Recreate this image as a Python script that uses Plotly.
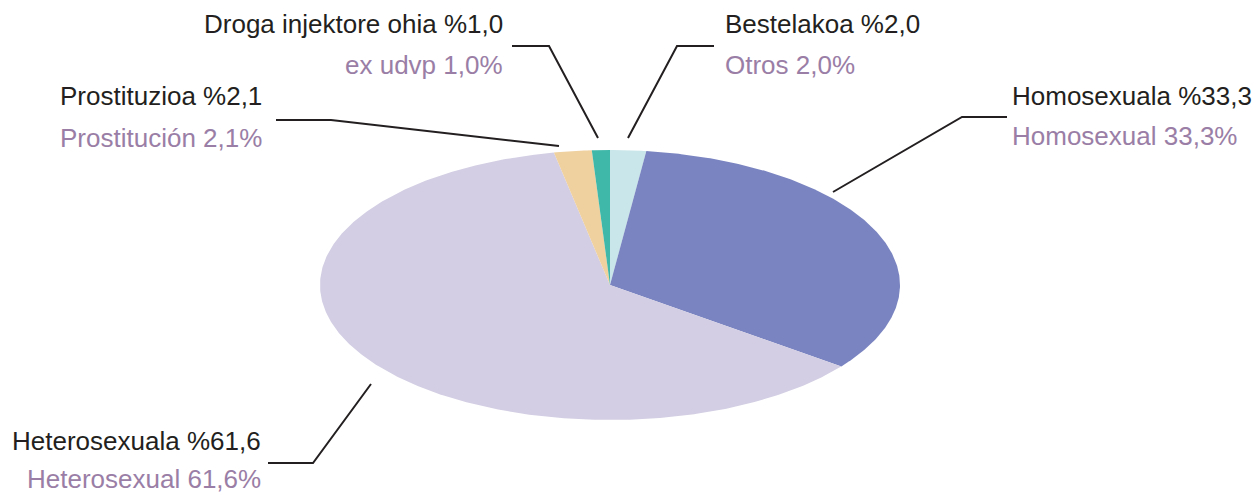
import math
import plotly.graph_objects as go

# ---- data (clockwise from 12 o'clock) ----
labels_es = ["Otros", "Homosexual", "Heterosexual", "Prostitución", "ex udvp"]
labels_eu = ["Bestelakoa", "Homosexuala", "Heterosexuala", "Prostituzioa", "Droga injektore ohia"]
values = [2.0, 33.3, 61.6, 2.1, 1.0]
colors = ["#c9e6ea", "#7a84c0", "#d3cee3", "#efd09f", "#40b8a9"]

# ---- geometry / style ----
W, H = 1256, 495
CX, CY = 610, 285
RX, RY = 290, 135
BLACK = "#231f20"
PURPLE = "#9a7ea6"
FONT = "Liberation Sans, Arial, sans-serif"
FS = 26

def fmt(v):
    return f"{v:.1f}".replace(".", ",")

fig = go.Figure()

total = sum(values)
start = 0.0
for lab, v, c in zip(labels_es, values, colors):
    a0 = start / total * 2 * math.pi
    a1 = (start + v) / total * 2 * math.pi
    n = max(8, int((a1 - a0) / (2 * math.pi) * 720))
    xs, ys = [CX], [CY]
    for i in range(n + 1):
        t = a0 + (a1 - a0) * i / n
        xs.append(CX + RX * math.sin(t))
        ys.append(CY - RY * math.cos(t))
    xs.append(CX)
    ys.append(CY)
    fig.add_trace(go.Scatter(x=xs, y=ys, fill="toself", fillcolor=c, mode="lines",
                             line=dict(width=0, color=c), name=lab,
                             hoverinfo="text", text=f"{lab} {fmt(v)}%", showlegend=False))
    start += v

# leader lines (layout decorations) : anchor -> elbow -> end
leaders = {
    "Otros": [(628, 138), (677, 46), (714, 46)],
    "ex udvp": [(598, 138), (549, 46), (512, 46)],
    "Prostitución": [(559, 146), (331, 120), (276, 120)],
    "Homosexual": [(833, 192), (962, 117), (1007, 117)],
    "Heterosexual": [(371, 384), (313, 463), (268, 463)],
}
for k, pts in leaders.items():
    path = "M " + " L ".join(f"{x},{y}" for x, y in pts)
    fig.add_shape(type="path", path=path, line=dict(color=BLACK, width=2),
                  xref="x", yref="y", layer="above")

# label placement: (x, anchor, y_black, y_purple)
place = {
    "Otros": (723, "left", 24, 65),
    "ex udvp": (505, "right", 24, 65),
    "Prostitución": (264, "right", 96, 138),
    "Homosexual": (1010, "left", 96, 136),
    "Heterosexual": (263, "right", 441, 479),
}
for es, eu, v in zip(labels_es, labels_eu, values):
    x, anc, yb, yp = place[es]
    fig.add_annotation(x=x, y=yb, xref="x", yref="y", text=f"{eu} %{fmt(v)}",
                       showarrow=False, xanchor=anc, yanchor="middle",
                       font=dict(family=FONT, size=FS, color=BLACK))
    fig.add_annotation(x=x, y=yp, xref="x", yref="y", text=f"{es} {fmt(v)}%",
                       showarrow=False, xanchor=anc, yanchor="middle",
                       font=dict(family=FONT, size=FS, color=PURPLE))

fig.update_layout(
    width=W, height=H,
    margin=dict(l=0, r=0, t=0, b=0),
    paper_bgcolor="white", plot_bgcolor="white",
    xaxis=dict(range=[0, W], visible=False, fixedrange=True),
    yaxis=dict(range=[H, 0], visible=False, fixedrange=True),
    showlegend=False,
)

fig.write_html("out.html",
               config={"displayModeBar": False},
               post_script="document.body.style.margin='0';document.body.style.overflow='hidden';")
